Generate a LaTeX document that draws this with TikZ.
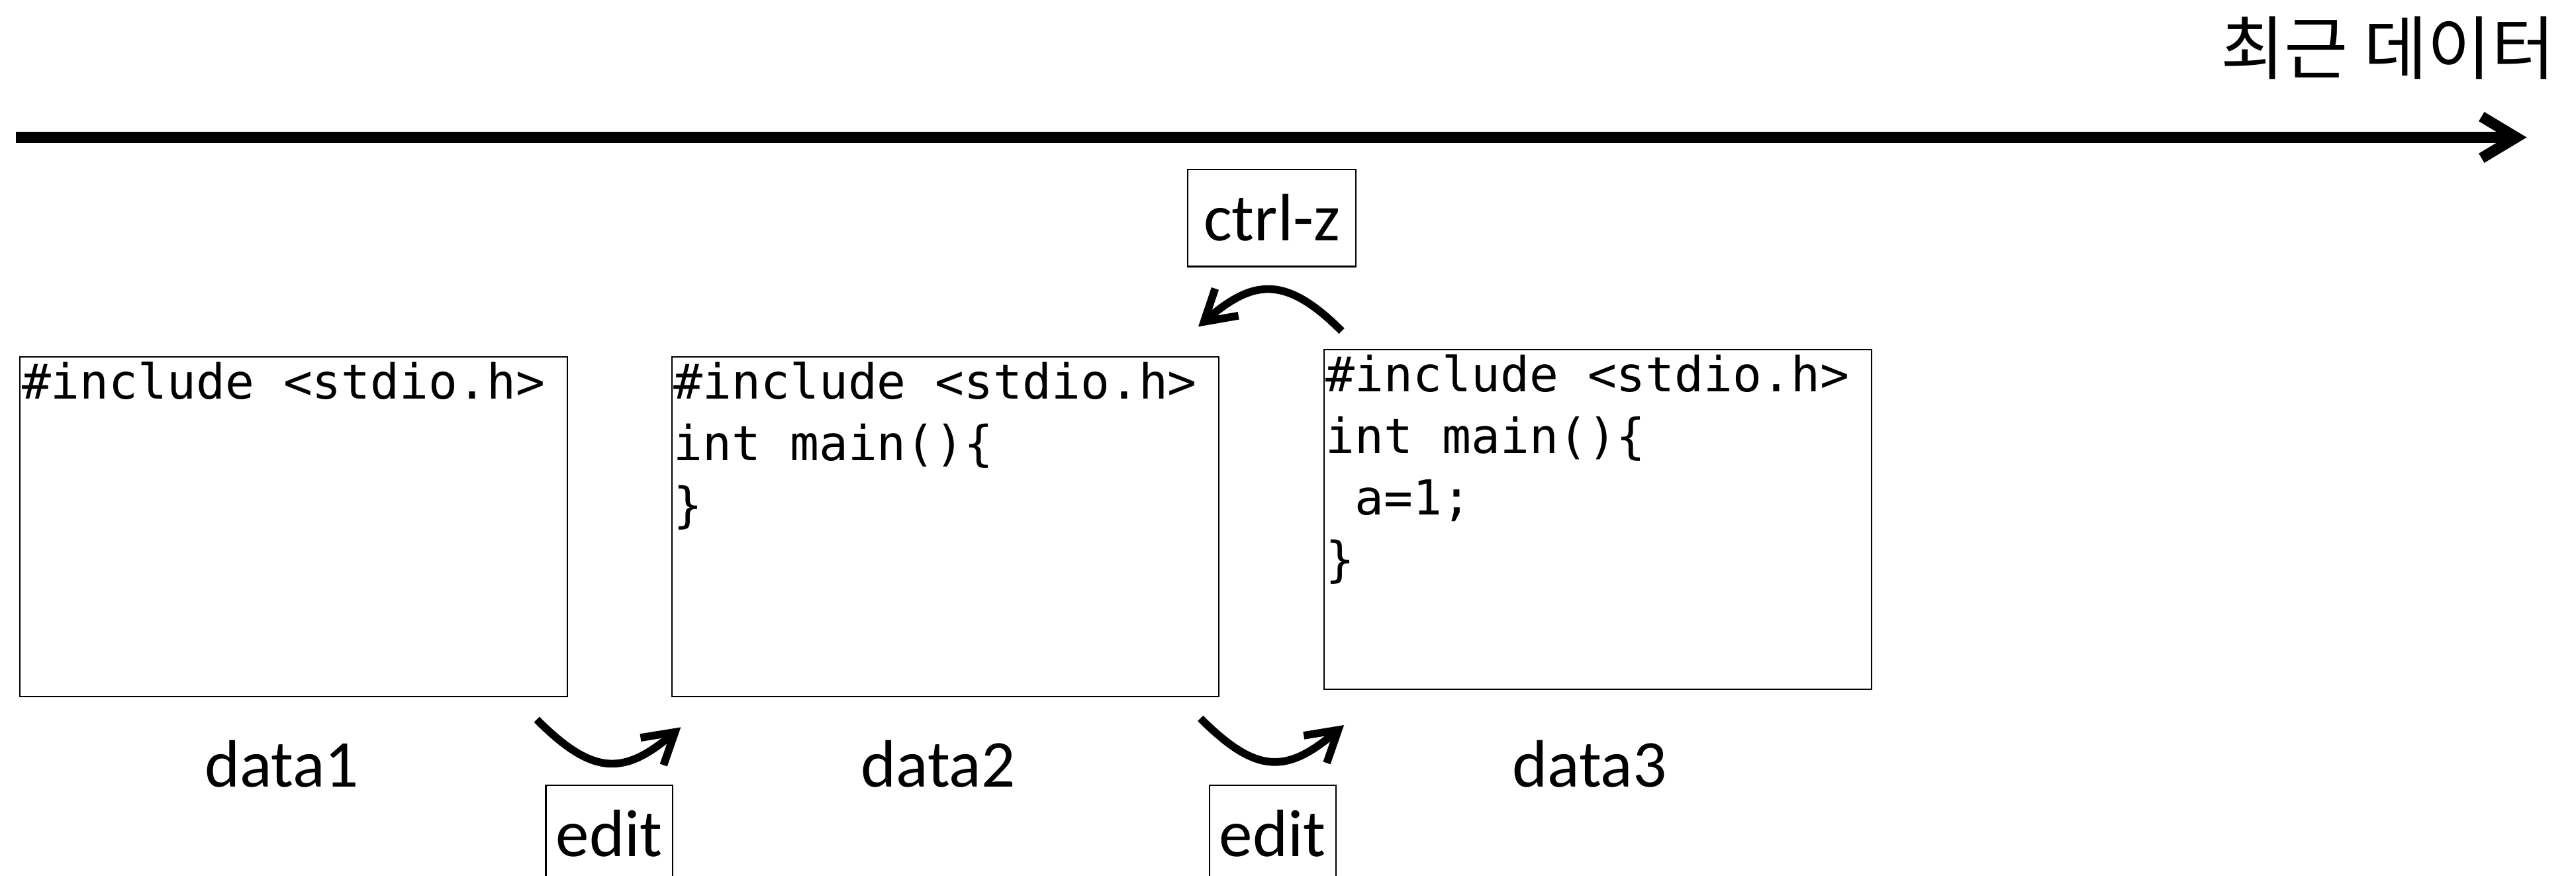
\documentclass[tikz,border=0pt]{standalone}
\usepackage{fontspec}
\setmainfont{Carlito}
\newfontfamily\codefont{DejaVu Sans Mono}
\newfontfamily\krfont{Noto Sans CJK KR}
\usetikzlibrary{arrows.meta}

\tikzset{
    codebox/.style={draw, line width=0.6pt, minimum width=83.3mm, minimum height=51.6mm, inner sep=0pt},
    code/.style={anchor=north west, align=left, inner xsep=1pt, inner ysep=2.1pt,
        font=\codefont\fontsize{20.9}{26.7}\selectfont},
    keybox/.style={draw, line width=0.6pt, minimum height=14.8mm, inner sep=0pt,
        font=\fontsize{29}{34}\selectfont},
    tag/.style={inner sep=0pt, font=\fontsize{29}{34}\selectfont},
    curvy/.style={line width=3.35pt, -{Straight Barb[length=13pt,width=15.5pt]}},
}

\begin{document}
\begin{tikzpicture}[x=0.25mm, y=-0.25mm]
    \useasboundingbox (0, 0) rectangle (1568, 533);

    % time axis
    \coordinate (tstart) at (9.7, 83.6);
    \coordinate (tend) at (1538, 83.6);
    \draw[line width=4.7pt, -{Straight Barb[length=15pt,width=18pt]}] (tstart) -- (tend);
    \node[anchor=east, inner sep=0pt, font=\krfont\fontsize{30}{34}\selectfont] (recent) at (1555.5, 29) {최근 데이터};

    % data1
    \node[codebox] (box1) at (178.65, 320.55) {};
    \node[code] (src1) at (box1.north west) {\#include <stdio.h>};
    \node[tag] (name1) at (171.5, 465) {data1};

    % data2
    \node[codebox] (box2) at (575.45, 320.55) {};
    \node[code] (src2) at (box2.north west) {\#include <stdio.h>\\int main()\{\\\}};
    \node[tag] (name2) at (571, 465) {data2};

    % data3
    \node[codebox] (box3) at (972.5, 316.15) {};
    \node[code] (src3) at (box3.north west) {\#include <stdio.h>\\int main()\{\\~a=1;\\\}};
    \node[tag] (name3) at (967.5, 465) {data3};

    % edit steps
    \node[keybox, minimum width=19.25mm] (edit1) at (370.75, 507.35) {edit};
    \coordinate (e1from) at (326.7, 437.9);
    \coordinate (e1to) at (414.4, 442.6);
    \draw[curvy] (e1from) .. controls +(34.8, 34.8) and +(-34.4, 28.9) .. (e1to);

    \node[keybox, minimum width=19.25mm] (edit2) at (774.6, 507.35) {edit};
    \coordinate (e2from) at (730.7, 437.2);
    \coordinate (e2to) at (818.1, 441.3);
    \draw[curvy] (e2from) .. controls +(34.8, 34.8) and +(-34.4, 28.9) .. (e2to);

    % undo
    \node[keybox, minimum width=25.6mm] (undo) at (774.2, 132.6) {ctrl-z};
    \coordinate (ufrom) at (816.7, 201.5);
    \coordinate (uto) at (729.4, 198.8);
    \draw[curvy] (ufrom) .. controls +(-34.6, -34.6) and +(33.0, -28.4) .. (uto);

\end{tikzpicture}
\end{document}
